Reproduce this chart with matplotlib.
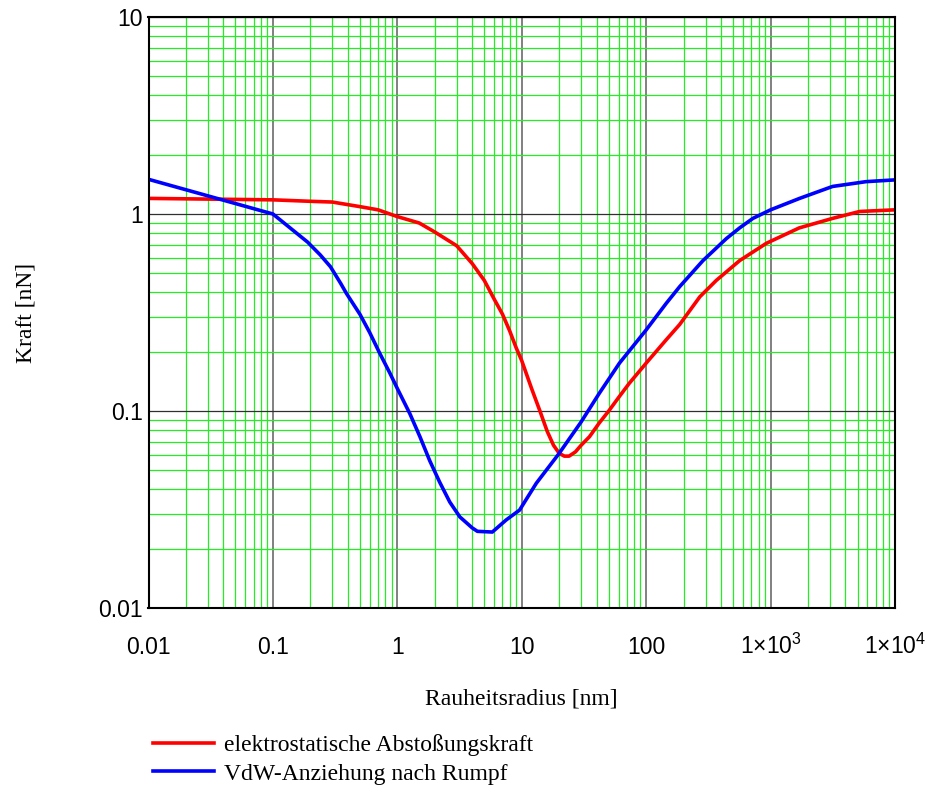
import numpy as np
import matplotlib
matplotlib.use("Agg")
import matplotlib.pyplot as plt
from matplotlib.ticker import FixedLocator, FixedFormatter, LogLocator, NullFormatter

plt.rcParams['mathtext.fontset'] = 'custom'
plt.rcParams['mathtext.rm'] = 'Liberation Sans'
plt.rcParams['mathtext.it'] = 'Liberation Sans'

# Rauheitsradius [nm] und Kräfte [nN]
r_el = [0.01, 0.1, 0.2, 0.3, 0.5, 0.7, 1, 1.5, 2, 3, 4, 5, 6, 7, 8, 9, 10,
        12, 14, 16, 18, 20, 22, 24, 27, 30, 35, 42, 50, 60, 73, 100, 145,
        186, 270, 366, 564, 925, 1700, 3150, 5200, 10000]
f_el = [1.2, 1.18, 1.16, 1.15, 1.09, 1.05, 0.97, 0.9, 0.81, 0.69, 0.56,
        0.46, 0.37, 0.31, 0.255, 0.21, 0.18, 0.13, 0.10, 0.079, 0.067,
        0.061, 0.059, 0.059, 0.062, 0.067, 0.074, 0.087, 0.1, 0.117,
        0.138, 0.175, 0.23, 0.275, 0.38, 0.46, 0.58, 0.71, 0.85, 0.95,
        1.03, 1.05]

r_vdw = [0.01, 0.1, 0.19, 0.24, 0.29, 0.35, 0.39, 0.5, 0.6, 0.72, 0.87, 1,
         1.26, 1.52, 1.82, 2.19, 2.64, 3.18, 4, 4.4, 5.8, 7.5, 9.6, 13.1,
         20, 30, 42, 61, 100, 145, 186, 286, 441, 564, 721, 1000, 1710,
         3150, 5870, 10000]
f_vdw = [1.5, 1.0, 0.72, 0.62, 0.54, 0.445, 0.395, 0.31, 0.25, 0.197,
         0.156, 0.13, 0.097, 0.074, 0.056, 0.0435, 0.0345, 0.029, 0.0255,
         0.0245, 0.0243, 0.028, 0.0314, 0.043, 0.061, 0.088, 0.123, 0.175,
         0.258, 0.352, 0.428, 0.58, 0.75, 0.85, 0.95, 1.05, 1.2, 1.38,
         1.46, 1.49]

x_ticks = [0.01, 0.1, 1, 10, 100, 1000, 10000]
x_labels = ['0.01', '0.1', '1', '10', '100', r'$1{\times}10^{3}$', r'$1{\times}10^{4}$']
y_ticks = [0.01, 0.1, 1, 10]
y_labels = ['0.01', '0.1', '1', '10']

fig = plt.figure(figsize=(9.33, 7.87), dpi=100)
ax = fig.add_axes([148.5/933, 1-608/787, (895-148.5)/933, (608-17)/787])

ax.set_xscale('log')
ax.set_yscale('log')
ax.set_xlim(0.01, 1e4)
ax.set_ylim(0.01, 10)

# Gitter
ax.xaxis.set_major_locator(FixedLocator(x_ticks))
ax.xaxis.set_major_formatter(FixedFormatter(x_labels))
ax.yaxis.set_major_locator(FixedLocator(y_ticks))
ax.yaxis.set_major_formatter(FixedFormatter(y_labels))
ax.xaxis.set_minor_locator(LogLocator(base=10, subs=np.arange(2, 10)))
ax.yaxis.set_minor_locator(LogLocator(base=10, subs=np.arange(2, 10)))
ax.xaxis.set_minor_formatter(NullFormatter())
ax.yaxis.set_minor_formatter(NullFormatter())
ax.grid(which='minor', color='#22ee22', lw=0.9)
ax.grid(which='major', axis='x', color='#808080', lw=1.4)
ax.grid(which='major', axis='y', color='#303030', lw=0.9)
ax.set_axisbelow(True)

ax.plot(r_el, f_el, color='#ff0000', lw=2.6, label='elektrostatische Abstoßungskraft')
ax.plot(r_vdw, f_vdw, color='#0000ff', lw=2.6, label='VdW-Anziehung nach Rumpf')

for s in ax.spines.values():
    s.set_linewidth(1.5)
    s.set_color('black')

ax.tick_params(which='both', length=0)
ax.tick_params(axis='y', labelsize=16.5, pad=4)
ax.tick_params(axis='x', labelsize=16.5, pad=33)
for lbl in ax.get_xticklabels() + ax.get_yticklabels():
    lbl.set_family('Liberation Sans')
for lbl in ax.get_xticklabels():
    lbl.set_verticalalignment('baseline')

ax.set_xlabel('Rauheitsradius [nm]', family='Liberation Serif', fontsize=17)
ax.set_ylabel('Kraft [nN]', family='Liberation Serif', fontsize=17)
ax.xaxis.set_label_coords(0.5, (608-689)/591)
ax.yaxis.set_label_coords((36-148.5)/746.5, 0.5)

fig.legend(loc='upper left', bbox_to_anchor=(153/933, 1-734/787), frameon=False,
           prop={'family': 'Liberation Serif', 'size': 17}, handlelength=2.6,
           handletextpad=0.42, borderpad=0, labelspacing=0.3, borderaxespad=0)

plt.savefig('out.png', dpi=100)
